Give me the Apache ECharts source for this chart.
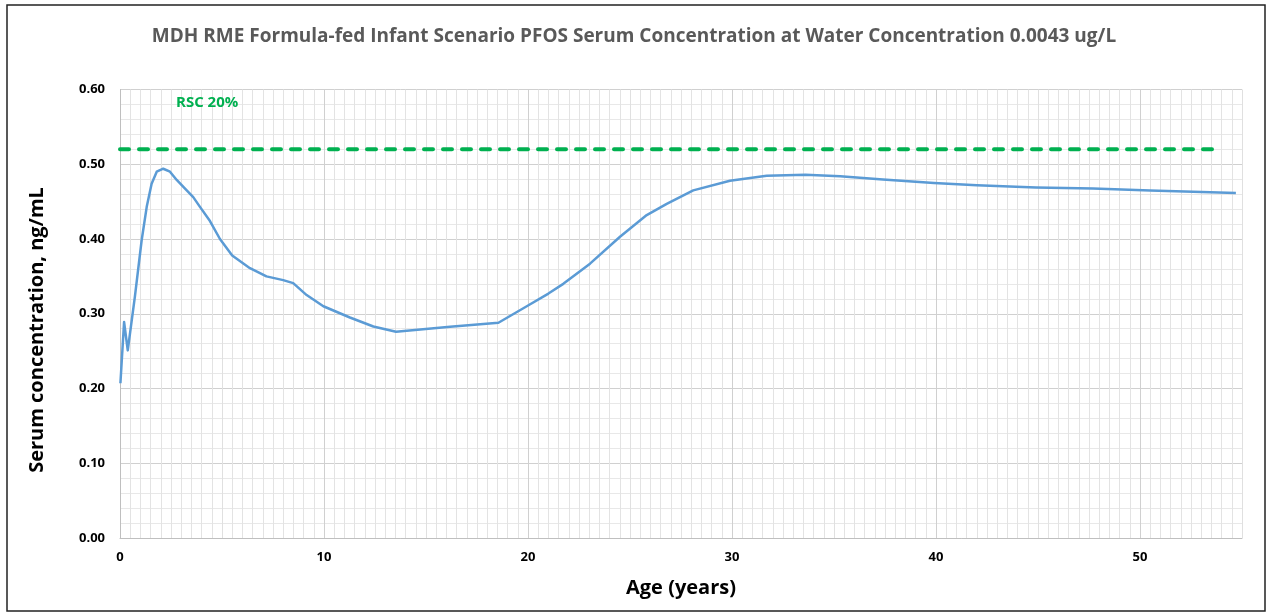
<!DOCTYPE html>
<html>
<head>
<meta charset="utf-8">
<script src="https://cdn.jsdelivr.net/npm/echarts@6/dist/echarts.min.js"></script>
<style>html,body{margin:0;padding:0;background:#fff;}#chart{width:1268px;height:615px;}</style>
</head>
<body>
<div id="chart"></div>
<script>
const titleText = 'MDH RME Formula-fed Infant Scenario PFOS Serum Concentration at Water Concentration 0.0043 ug/L';
const xAxisName = 'Age (years)';
const yAxisName = 'Serum concentration, ng/mL';
const rscLabel = 'RSC 20%';
const rscLevel = 0.52;
const rscAges = [0, 53.8];

const ages = [0.02, 0.2, 0.38, 0.73, 1.06, 1.31, 1.55, 1.8, 2.12, 2.45, 2.78, 3.2, 3.59, 3.92, 4.41, 4.9, 5.5, 6.37, 7.18, 8.0, 8.49, 9.15, 9.97, 11.27, 12.42, 13.53, 16.18, 18.55, 19.94, 21.0, 21.73, 23.04, 24.51, 25.82, 26.8, 28.1, 29.9, 31.7, 33.6, 35.3, 37.4, 39.9, 42.0, 44.9, 47.7, 50.5, 54.7];
const serum = [0.207, 0.289, 0.251, 0.323, 0.398, 0.443, 0.474, 0.490, 0.494, 0.490, 0.479, 0.467, 0.456, 0.443, 0.424, 0.400, 0.378, 0.361, 0.350, 0.345, 0.341, 0.325, 0.310, 0.295, 0.283, 0.276, 0.2825, 0.288, 0.310, 0.327, 0.340, 0.367, 0.403, 0.432, 0.447, 0.465, 0.478, 0.4845, 0.486, 0.484, 0.4795, 0.475, 0.472, 0.469, 0.4675, 0.465, 0.4615];

const chart = echarts.init(document.getElementById('chart'));
const font = '"Open Sans", Lato, sans-serif';
chart.setOption({
  backgroundColor: '#fff',
  animation: false,
  title: {
    text: titleText,
    left: 'center',
    top: 22,
    textStyle: {fontFamily: font, fontSize: 19, fontWeight: 'bold', color: '#595959'}
  },
  graphic: [
    {type: 'rect', z: 100, shape: {x: 7, y: 5, width: 1258, height: 606}, style: {fill: 'none', stroke: '#222', lineWidth: 1.5}, silent: true},
    {type: 'text', z: 100, left: 176, top: 95, style: {text: rscLabel, fill: '#00B050', font: 'bold 15px ' + font}},
    {type: 'text', z: 100, x: 37, y: 330, rotation: Math.PI / 2,
      style: {text: yAxisName, fill: '#000', font: 'bold 20px ' + font, textAlign: 'center', textVerticalAlign: 'middle'}}
  ],
  grid: {left: 120, right: 26, top: 89.5, bottom: 77, containLabel: false},
  xAxis: {
    type: 'value', min: 0, max: 55, interval: 5,
    name: xAxisName, nameLocation: 'middle', nameGap: 40,
    nameTextStyle: {fontFamily: font, fontSize: 20, fontWeight: 'bold', color: '#000'},
    axisLine: {show: true, lineStyle: {color: '#bfbfbf', width: 1}},
    axisTick: {show: false},
    axisLabel: {
      margin: 13, fontFamily: font, fontSize: 13, fontWeight: 'bold', color: '#000',
      formatter: v => (v % 10 === 0 && v <= 50) ? String(v) : ''
    },
    splitLine: {show: true, lineStyle: {color: ['#d0d0d0', '#e0e0e0'], width: 1}},
    minorTick: {show: false, splitNumber: 10},
    minorSplitLine: {show: true, lineStyle: {color: '#e3e3e3', width: 1}}
  },
  yAxis: {
    type: 'value', min: 0, max: 0.6, interval: 0.1,
    axisLine: {show: true, lineStyle: {color: '#bfbfbf', width: 1}},
    axisTick: {show: false},
    axisLabel: {margin: 15, fontFamily: font, fontSize: 13, fontWeight: 'bold', color: '#000', formatter: v => v.toFixed(2)},
    splitLine: {show: true, lineStyle: {color: '#d0d0d0', width: 1}},
    minorTick: {show: false, splitNumber: 5},
    minorSplitLine: {show: true, lineStyle: {color: '#e8e8e8', width: 1}}
  },
  series: [
    {
      type: 'line', name: 'Serum', showSymbol: false, smooth: false,
      data: ages.map((a, i) => [a, serum[i]]),
      lineStyle: {color: '#5B9BD5', width: 2.5, join: 'round'},
      z: 3
    },
    {
      type: 'line', name: rscLabel, showSymbol: false,
      data: rscAges.map(a => [a, rscLevel]),
      lineStyle: {color: '#00B050', width: 4, type: [9, 10], cap: 'round'},
      z: 2
    }
  ]
});
</script>
</body>
</html>
